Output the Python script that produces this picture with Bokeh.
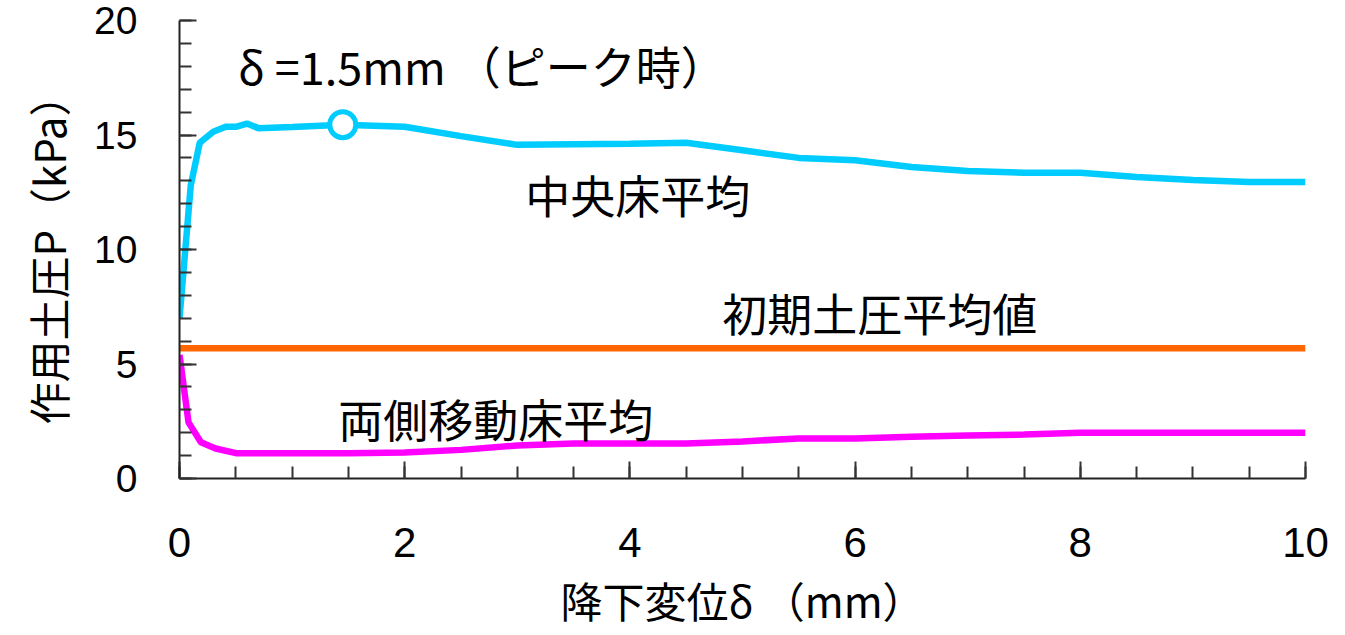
from bokeh.plotting import figure
from bokeh.models import Range1d, FixedTicker, Label
from bokeh.embed import file_html
from bokeh.resources import INLINE

# Central floor average (中央床平均)
center_x = [0.0, 0.1, 0.18, 0.3, 0.41, 0.5, 0.6, 0.7, 1.0, 1.45, 2.0, 2.5, 3.0, 3.5, 4.0, 4.5,
            5.0, 5.5, 6.0, 6.5, 7.0, 7.5, 8.0, 8.5, 9.0, 9.5, 10.0]
center_y = [7.0, 12.8, 14.66, 15.14, 15.36, 15.36, 15.5, 15.3, 15.35, 15.45, 15.36, 14.95, 14.57, 14.6, 14.62, 14.66,
            14.33, 14.0, 13.9, 13.6, 13.43, 13.35, 13.35, 13.17, 13.04, 12.95, 12.95]

# Both side moving floors average (両側移動床平均)
side_x = [0.0, 0.08, 0.19, 0.32, 0.51, 1.0, 1.5, 2.0, 2.5, 3.0, 3.5, 4.0, 4.5, 5.0, 5.5, 6.0,
          6.5, 7.0, 7.5, 8.0, 8.5, 9.0, 9.5, 10.0]
side_y = [5.4, 2.45, 1.58, 1.31, 1.1, 1.1, 1.1, 1.14, 1.25, 1.44, 1.53, 1.53, 1.53, 1.62, 1.75, 1.75,
          1.82, 1.88, 1.92, 2.0, 2.0, 2.0, 2.0, 2.0]

# Initial earth pressure average (初期土圧平均値)
initial_value = 5.69

# Peak point
peak_x = [1.45]
peak_y = [15.45]

x_ticks = [0, 2, 4, 6, 8, 10]
y_ticks = [0, 5, 10, 15, 20]

p = figure(frame_width=1126, frame_height=458, output_backend="svg", toolbar_location=None,
           x_range=Range1d(0, 10), y_range=Range1d(0, 20),
           min_border_left=179, min_border_right=33, min_border_top=20, min_border_bottom=140)
p.outline_line_color = None
p.xgrid.grid_line_color = None
p.ygrid.grid_line_color = None
p.background_fill_color = "white"

p.line(center_x, center_y, line_color="#00CCFF", line_width=6.5)
p.line([0, 10], [initial_value, initial_value], line_color="#FF6600", line_width=6.5)
p.line(side_x, side_y, line_color="#FF00FF", line_width=6.5)
p.scatter(peak_x, peak_y, size=26, fill_color="white", line_color="#00CCFF", line_width=5)

for ax, ticks, minor in ((p.xaxis[0], x_ticks, [i * 0.5 for i in range(21)]),
                         (p.yaxis[0], y_ticks, list(range(21)))):
    ax.ticker = FixedTicker(ticks=ticks, minor_ticks=minor)
    ax.axis_line_color = "#222222"
    ax.axis_line_width = 2
    ax.major_tick_line_color = "#333333"
    ax.minor_tick_line_color = "#333333"
    ax.major_tick_line_width = 2
    ax.minor_tick_line_width = 2
    ax.major_tick_in = 17
    ax.major_tick_out = 0
    ax.minor_tick_in = 12
    ax.minor_tick_out = 0
    ax.major_label_text_font = "Liberation Sans"
    ax.major_label_text_color = "black"
    ax.axis_label_text_font = "Noto Sans CJK JP"
    ax.axis_label_text_font_style = "normal"
    ax.axis_label_text_font_size = "42px"
    ax.axis_label_text_color = "black"

p.xaxis.major_label_text_font_size = "42px"
p.yaxis.major_label_text_font_size = "39px"
p.xaxis.major_label_standoff = 49
p.yaxis.major_label_standoff = 42
p.xaxis.axis_label = "降下変位δ （mm）"
p.yaxis.axis_label = "作用土圧P（kPa）"
p.xaxis.axis_label_standoff = 9
p.yaxis.axis_label_standoff = 13

labels = [
    ("δ =1.5mm （ピーク時）", 0.52, 18.03),
    ("中央床平均", 3.07, 12.39),
    ("初期土圧平均値", 4.82, 7.26),
    ("両側移動床平均", 1.41, 2.63),
]
for txt, lx, ly in labels:
    p.add_layout(Label(x=lx, y=ly, text=txt, text_font="Noto Sans CJK JP",
                       text_font_size="45px", text_color="black",
                       text_baseline="middle", text_align="left"))

open("out.html", "w").write(file_html(p, INLINE))
